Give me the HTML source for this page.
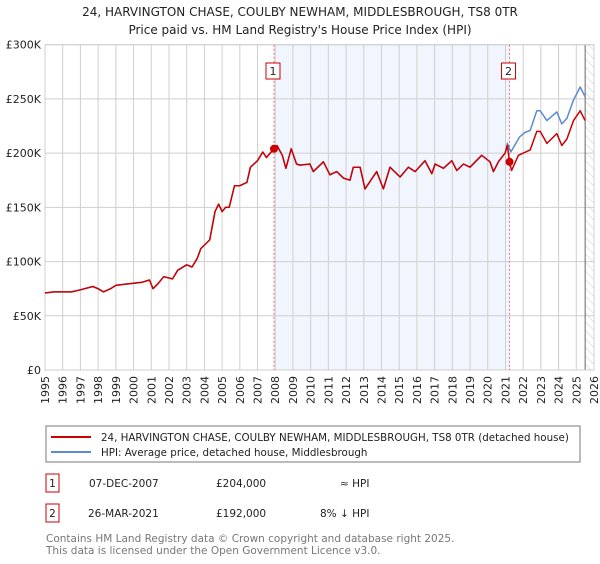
<!DOCTYPE html>
<html><head><meta charset="utf-8"><style>
body{margin:0;background:#fff;font-family:"DejaVu Sans","Liberation Sans",sans-serif;}
svg text{font-family:"DejaVu Sans","Liberation Sans",sans-serif;}
</style></head><body>
<svg id="chart" width="600" height="560" xmlns="http://www.w3.org/2000/svg">
<text x="300" y="16" text-anchor="middle" font-size="12" fill="#222">24, HARVINGTON CHASE, COULBY NEWHAM, MIDDLESBROUGH, TS8 0TR</text>
<text x="300" y="34" text-anchor="middle" font-size="12" fill="#222">Price paid vs. HM Land Registry's House Price Index (HPI)</text>
<g id="plot"></g>
<g>
<rect x="46" y="426" width="534" height="36" fill="#fff" stroke="#777"/>
<line x1="51" y1="437" x2="91" y2="437" stroke="#cc0000" stroke-width="2"/>
<text x="101" y="441" font-size="10.3" fill="#222">24, HARVINGTON CHASE, COULBY NEWHAM, MIDDLESBROUGH, TS8 0TR (detached house)</text>
<line x1="51" y1="452" x2="91" y2="452" stroke="#5b8bd0" stroke-width="2"/>
<text x="101" y="456" font-size="10.3" fill="#222">HPI: Average price, detached house, Middlesbrough</text>
</g>
<g font-size="10.5" fill="#222">
<rect x="46" y="474" width="13" height="18" fill="#fff" stroke="#cc0000"/>
<text x="52.5" y="487" text-anchor="middle">1</text>
<text x="89" y="487">07-DEC-2007</text>
<text x="216" y="487">£204,000</text>
<text x="340" y="487">≈ HPI</text>
</g>
<g font-size="10.5" fill="#222">
<rect x="46" y="504" width="13" height="18" fill="#fff" stroke="#cc0000"/>
<text x="52.5" y="517" text-anchor="middle">2</text>
<text x="88" y="517">26-MAR-2021</text>
<text x="216" y="517">£192,000</text>
<text x="320" y="517">8% ↓ HPI</text>
</g>
<text x="46" y="542" font-size="10.5" fill="#777">Contains HM Land Registry data © Crown copyright and database right 2025.</text>
<text x="46" y="554" font-size="10.5" fill="#777">This data is licensed under the Open Government Licence v3.0.</text>
</svg>
<script>
const sharedYears=[1995.0,1995.5,1996.0,1996.5,1997.0,1997.7,1998.0,1998.3,1998.7,1999.0,1999.5,2000.0,2000.5,2000.9,2001.1,2001.4,2001.7,2002.2,2002.5,2003.0,2003.3,2003.6,2003.8,2004.3,2004.6,2004.8,2005.0,2005.2,2005.4,2005.7,2006.0,2006.4,2006.6,2007.0,2007.3,2007.5,2007.93,2008.1,2008.4,2008.6,2008.9,2009.2,2009.4,2009.96,2010.15,2010.72,2011.09,2011.47,2011.85,2012.22,2012.41,2012.79,2013.07,2013.73,2014.11,2014.48,2015.05,2015.52,2015.9,2016.46,2016.84,2017.03,2017.5,2017.97,2018.25,2018.63,2019.0,2019.66,2020.13,2020.32,2020.6,2020.98];
const sharedValues=[71,72,72,72,74,77,75,72,75,78,79,80,81,83,75,80,86,84,92,97,95,103,112,120,146,153,146,150,150,170,170,173,187,193,201,196,204,207,198,186,204,190,189,190,183,192,180,183,177,175,187,187,167,183,167,187,178,187,183,193,181,190,186,193,184,190,187,198,192,183,192,200];
const hpiTailYears=[2021.11,2021.3,2021.8,2022.1,2022.4,2022.77,2022.96,2023.34,2023.9,2024.18,2024.47,2024.84,2025.22,2025.5];
const hpiTailValues=[209,201,215,219,221,239,239,230,238,227,232,249,261,252];
const priceTailYears=[2021.11,2021.23,2021.35,2021.73,2022.4,2022.77,2022.96,2023.34,2023.9,2024.18,2024.47,2024.84,2025.22,2025.5];
const priceTailValues=[207,192,184,198,203,220,220,209,218,207,213,230,239,230];
const yTicks=[0,50,100,150,200,250,300];
const yTickLabels=["£0","£50K","£100K","£150K","£200K","£250K","£300K"];
const xTicks=[1995,1996,1997,1998,1999,2000,2001,2002,2003,2004,2005,2006,2007,2008,2009,2010,2011,2012,2013,2014,2015,2016,2017,2018,2019,2020,2021,2022,2023,2024,2025,2026];
const saleYears=[2007.93,2021.23];
const saleValues=[204,192];
const saleLabels=["1","2"];

const hpiYears=sharedYears.concat(hpiTailYears), hpiValues=sharedValues.concat(hpiTailValues);
const priceYears=sharedYears.concat(priceTailYears), priceValues=sharedValues.concat(priceTailValues);

const L=45,R=594,T=44.7,B=370;
const X=y=>L+(y-1995)/(2026-1995)*(R-L);
const Y=v=>B-v/300*(B-T);
const NS="http://www.w3.org/2000/svg";
const g=document.getElementById('plot');
function mk(tag,attrs,parent){const e=document.createElementNS(NS,tag);for(const k in attrs)e.setAttribute(k,attrs[k]);(parent||g).appendChild(e);return e;}

let e=mk('rect',{x:X(saleYears[0]),y:T,width:X(saleYears[1])-X(saleYears[0]),height:B-T,fill:'#eef3fd',opacity:0.8});


const defs=mk('defs',{});
const pat=mk('pattern',{id:'hatch',width:6,height:6,patternUnits:'userSpaceOnUse',patternTransform:'rotate(-45)'},defs);
mk('line',{x1:0,y1:0,x2:0,y2:6,stroke:'#ccc','stroke-width':1},pat);
e=mk('rect',{x:X(2025.5),y:T,width:R-X(2025.5),height:B-T,fill:'url(#hatch)'});



xTicks.forEach(t=>{
  let l=mk('line',{x1:X(t),y1:T,x2:X(t),y2:B,stroke:'#cfcfcf','stroke-width':1});
  
  
  let tx=mk('text',{x:0,y:0,transform:`translate(${X(t)+4},${B+6}) rotate(-90)`,'text-anchor':'end','font-size':11,fill:'#222'});
  tx.textContent=t;
  
  
});
yTicks.forEach((t,i)=>{
  let l=mk('line',{x1:L,y1:Y(t),x2:R,y2:Y(t),stroke:'#cfcfcf','stroke-width':1});
  
  
  let tx=mk('text',{x:L-4,y:Y(t)+4,'text-anchor':'end','font-size':11,fill:'#222'});
  tx.textContent=yTickLabels[i];
  
  
});
e=mk('line',{x1:X(2025.5),y1:T,x2:X(2025.5),y2:B,stroke:'#666','stroke-width':1});


e=mk('rect',{x:L,y:T,width:R-L,height:B-T,fill:'none',stroke:'#cfcfcf'});



saleYears.forEach((s,i)=>{
  let l=mk('line',{x1:X(s),y1:T,x2:X(s),y2:B,stroke:'#f07070','stroke-width':1,'stroke-dasharray':'2,2'});
  
  
});

const pts=(xs,vs)=>xs.map((x,i)=>X(x).toFixed(1)+','+Y(vs[i]).toFixed(1)).join(' ');
e=mk('polyline',{points:pts(hpiYears,hpiValues),fill:'none',stroke:'#5b8bd0','stroke-width':1.5,'stroke-linejoin':'round'});


e=mk('polyline',{points:pts(priceYears,priceValues),fill:'none',stroke:'#cc0000','stroke-width':1.5,'stroke-linejoin':'round'});



saleYears.forEach((s,i)=>{
  let c=mk('circle',{cx:X(s),cy:Y(saleValues[i]),r:4,fill:'#cc0000'});
  
  
  let r=mk('rect',{x:X(s)-8,y:63,width:14,height:16,fill:'#fff',stroke:'#cc0000'});
  
  
  let t=mk('text',{x:X(s)-1,y:75,'text-anchor':'middle','font-size':11,fill:'#222'});
  t.textContent=saleLabels[i];
  
  
});
</script>
</body></html>
